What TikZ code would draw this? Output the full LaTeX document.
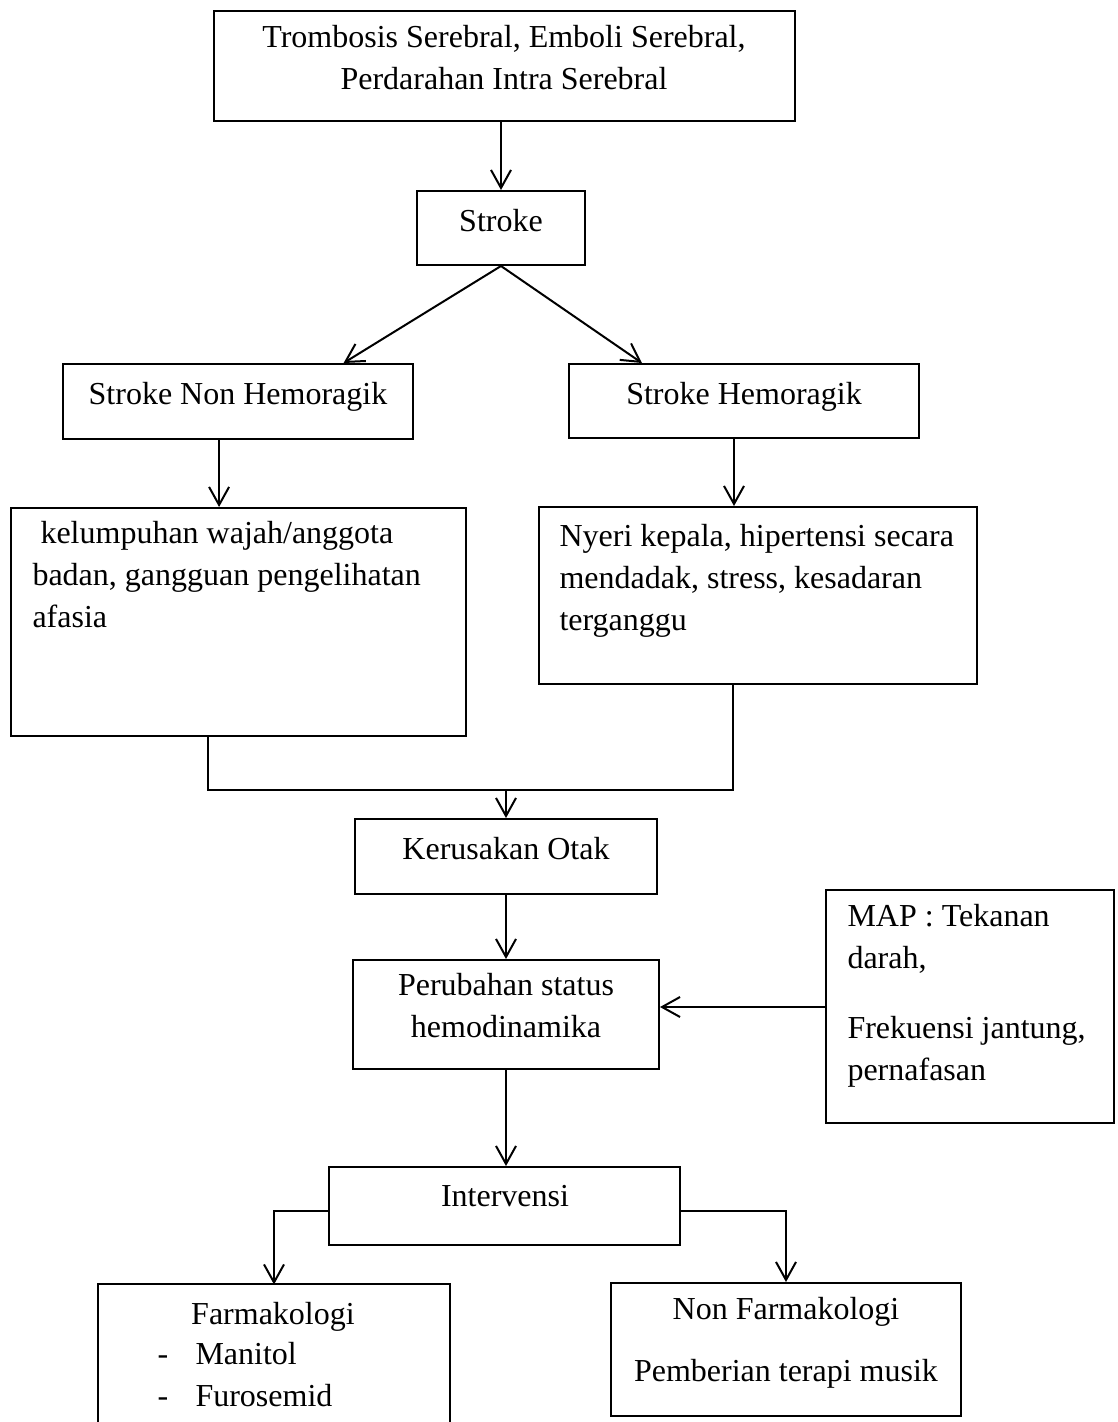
\documentclass[tikz,border=0pt]{standalone}
\usepackage{fontspec}
\setmainfont{Liberation Serif}
\usetikzlibrary{arrows.meta,fit,calc}
\newcommand\fstrut{\rule{0pt}{10pt}}
\begin{document}
\begin{tikzpicture}[x=0.375pt,y=-0.375pt,
  box/.style={draw, line width=0.75pt, inner sep=0pt},
  hidden/.style={inner sep=0pt},
  txt/.style={inner sep=0pt, anchor=north, align=center, yshift=10pt,
    font=\fontsize{12pt}{15.75pt}\selectfont, execute at begin node=\fstrut},
  ltxt/.style={txt, anchor=north west, align=left},
  arr/.style={line width=0.75pt, -{Straight Barb[length=6.75pt,width=7.5pt,line width=0.75pt]}},
  ln/.style={line width=0.75pt}]
\useasboundingbox (0,0) rectangle (1118,1422);
\fill[white] (0,0) rectangle (1118,1422);

% boxes
\node[box, fit={(214,11) (795,121)}] (top) {};
\node[box, fit={(417,191) (585,265)}] (stroke) {};
\node[box, fit={(63,364) (413,439)}] (snh) {};
\node[box, fit={(569,364) (919,438)}] (sh) {};
\node[box, fit={(11,508) (466,736)}] (kel) {};
\node[box, fit={(539,507) (977,684)}] (nye) {};
\node[box, fit={(355,819) (657,894)}] (keru) {};
\node[box, fit={(353,960) (659,1069)}] (peru) {};
\node[box, fit={(826,890) (1114,1123)}] (map) {};
\node[box, fit={(329,1167) (680,1245)}] (intv) {};
\node[hidden, fit={(99,1285) (449,1422)}] (farm) {};
\draw[ln] (farm.south west) -- (farm.north west) -- (farm.north east) -- (farm.south east);
\node[box, fit={(611,1283) (961,1416)}] (nfarm) {};

% texts
\node[txt] (topt) at (504,51) {Trombosis Serebral, Emboli Serebral,\\Perdarahan Intra Serebral};
\node[txt] (strokt) at (501,231) {Stroke};
\node[txt] (snht) at (238,404) {Stroke Non Hemoragik};
\node[txt] (sht) at (744,404) {Stroke Hemoragik};
\node[ltxt] (kelt) at (32,547) {\hspace*{3pt}kelumpuhan wajah/anggota\\badan, gangguan pengelihatan\\afasia};
\node[ltxt] (nyet) at (559,550) {Nyeri kepala, hipertensi secara\\mendadak, stress, kesadaran\\terganggu};
\node[txt] (kerut) at (506,859) {Kerusakan Otak};
\node[txt] (perut) at (506,999) {Perubahan status\\hemodinamika};
\node[ltxt] (mapt) at (847,930) {MAP : Tekanan\\darah,\\[10.5pt]Frekuensi jantung,\\pernafasan};
\node[txt] (intvt) at (505,1206) {Intervensi};
\node[txt] (farmt) at (273,1324) {Farmakologi};
\node[ltxt] (farml) at (157,1368) {\makebox[14.25pt][l]{-}Manitol\\\makebox[14.25pt][l]{-}Furosemid};
\node[txt] (nfarmt) at (786,1323) {Non Farmakologi\\[7.5pt]Pemberian terapi musik};

% connectors
\draw[arr] (stroke.north |- top.south) -- (stroke.north);
\draw[arr] (stroke.south) -- ($(snh.north west)!0.8!(snh.north east)$);
\draw[arr] (stroke.south) -- ($(sh.north west)!0.21!(sh.north east)$);
\draw[arr] ([xshift=-7.1pt]snh.south) -- ([xshift=-7.1pt]snh.south |- kel.north);
\draw[arr] ([xshift=-3.75pt]sh.south) -- ([xshift=-3.75pt]sh.south |- nye.north);
\coordinate (join) at (506,790);
\draw[ln] ([xshift=-11.4pt]kel.south) |- (join) -| ([xshift=-9.4pt]nye.south);
\draw[arr] (join) -- (keru.north);
\draw[arr] (keru.south) -- (peru.north);
\coordinate (mapin) at ($(peru.east)+(0,-7.5)$);
\draw[arr] (mapin -| map.west) -- (mapin);
\draw[arr] (peru.south) -- (peru.south |- intv.north);
\coordinate (il) at ($(intv.west)+(0,5)$);
\coordinate (ir) at ($(intv.east)+(0,5)$);
\draw[arr] (il) -| (farm.north);
\draw[arr] (ir) -| (nfarm.north);
\end{tikzpicture}
\end{document}
